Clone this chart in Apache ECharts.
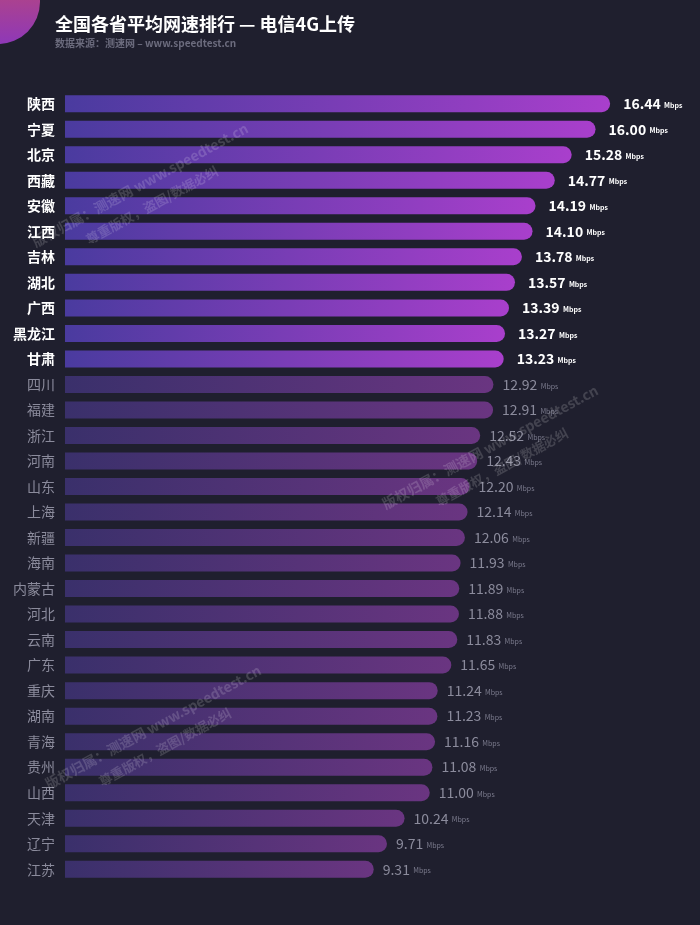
<!DOCTYPE html>
<html><head><meta charset="utf-8">
<script src="https://cdn.jsdelivr.net/npm/echarts@6/dist/echarts.min.js"></script>
<style>html,body{margin:0;padding:0;background:#1f1f2e;}#c{width:700px;height:925px;}</style>
</head><body><div id="c"></div>
<script>
const provinces = ['陕西','宁夏','北京','西藏','安徽','江西','吉林','湖北','广西','黑龙江','甘肃','四川','福建','浙江','河南','山东','上海','新疆','海南','内蒙古','河北','云南','广东','重庆','湖南','青海','贵州','山西','天津','辽宁','江苏'];
const speeds = [16.44,16.00,15.28,14.77,14.19,14.10,13.78,13.57,13.39,13.27,13.23,12.92,12.91,12.52,12.43,12.20,12.14,12.06,11.93,11.89,11.88,11.83,11.65,11.24,11.23,11.16,11.08,11.00,10.24,9.71,9.31];
const highlightCount = 11;
const titleText = '全国各省平均网速排行 — 电信4G上传';
const subtitleText = '数据来源：测速网 – www.speedtest.cn';
const wmLine1 = '版权归属：测速网 www.speedtest.cn';
const wmLine2 = '尊重版权，盗图/数据必纠';

const FONT = '"Noto Sans CJK SC","Noto Sans",sans-serif';
const grad = (a, b) => new echarts.graphic.LinearGradient(0, 0, 1, 0, [{offset:0,color:a},{offset:1,color:b}]);

const data = speeds.map((v, i) => {
  const hi = i < highlightCount;
  return {
    value: v,
    itemStyle: { color: hi ? grad('#4a3b9f', '#a93fcc') : grad('#3a306b', '#6a3581') },
    label: {
      show: true, position: 'right', distance: hi ? 13 : 9,
      formatter: () => hi ? '{a|' + v.toFixed(2) + '} {b|Mbps}' : '{c|' + v.toFixed(2) + '} {d|Mbps}',
      rich: {
        a: { color: '#ffffff', fontSize: 14, fontWeight: 'bold', fontFamily: FONT },
        b: { color: '#ffffff', fontSize: 7, fontWeight: 'bold', fontFamily: FONT, padding: [3,0,0,0] },
        c: { color: '#8b8b9c', fontSize: 14, fontFamily: FONT },
        d: { color: '#7c7c8e', fontSize: 7, fontFamily: FONT, padding: [3,0,0,0] }
      }
    }
  };
});

function watermark(x, y) {
  return [
    { type: 'text', x: x, y: y, rotation: 28.5 * Math.PI / 180, z: 100,
      style: { text: wmLine1, fill: 'rgba(255,255,255,0.16)', font: 'bold 14px ' + FONT, textAlign: 'center', textVerticalAlign: 'middle' } },
    { type: 'text', x: x + 12, y: y + 20, rotation: 28.5 * Math.PI / 180, z: 100,
      style: { text: wmLine2, fill: 'rgba(255,255,255,0.16)', font: 'bold 13px ' + FONT, textAlign: 'center', textVerticalAlign: 'middle' } }
  ];
}

const chart = echarts.init(document.getElementById('c'), null, { renderer: 'canvas' });
chart.setOption({
  backgroundColor: '#1f1f2e',
  animation: false,
  graphic: [
    { type: 'circle', shape: { cx: -2, cy: 2, r: 42 }, z: 0,
      style: { fill: new echarts.graphic.LinearGradient(0, 0, 0, 1, [{offset:0,color:'#c44a6c'},{offset:1,color:'#8e38b8'}]) } },
    { type: 'text', left: 55, top: 15,
      style: { text: titleText, fill: '#ffffff', font: 'bold 18px ' + FONT } },
    { type: 'text', left: 55, top: 38,
      style: { text: subtitleText, fill: '#6c6c7e', font: 'bold 10px ' + FONT } },
    ...watermark(153, 727),
    ...watermark(140, 185),
    ...watermark(490, 447)
  ],
  grid: { left: 65, right: 0, top: 91, bottom: 43, containLabel: false },
  xAxis: { type: 'value', min: 0, max: 19.15, show: false },
  yAxis: {
    type: 'category', data: provinces, inverse: true,
    axisLine: { show: false }, axisTick: { show: false }, splitLine: { show: false },
    axisLabel: {
      margin: 10, fontFamily: FONT,
      formatter: (v, i) => (i < highlightCount ? '{h|' + v + '}' : '{d|' + v + '}'),
      rich: {
        h: { color: '#ffffff', fontSize: 14, fontWeight: 'bold', fontFamily: FONT },
        d: { color: '#8b8b9c', fontSize: 14, fontFamily: FONT }
      }
    }
  },
  series: [{
    type: 'bar', data: data, barWidth: 17,
    itemStyle: { borderRadius: [0, 9, 9, 0] }
  }]
});
</script></body></html>
